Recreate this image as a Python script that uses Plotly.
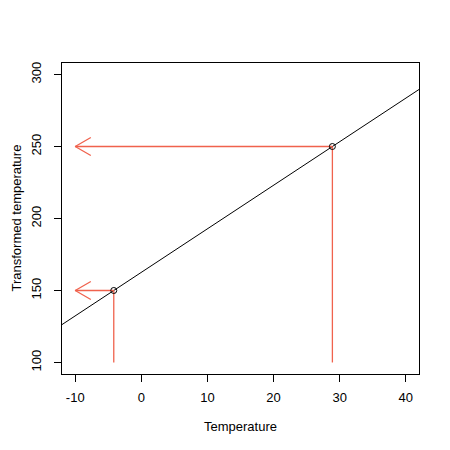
import numpy as np
import plotly.graph_objects as go

# Data
point_x = [-4.17, 28.9]          # temperatures of the two marked points
point_y = [150, 250]             # transformed temperatures
arrow_target_x = -10             # arrows point to this x
drop_to_y = 100                  # vertical lines go down to this y
x_ticks = [-10, 0, 10, 20, 30, 40]
y_ticks = [100, 150, 200, 250, 300]
x_range = [-12, 42]
y_range = [92, 308]

RED = "#F0624D"
W, H = 450, 450
ML, MT = 54, 55
PW, PH = 357, 311
MR, MB = W - ML - PW, H - MT - PH

# line through the two points (abline-like, spanning the axis range)
slope = (point_y[1] - point_y[0]) / (point_x[1] - point_x[0])
intercept = point_y[0] - slope * point_x[0]
lx = np.array(x_range)
ly = intercept + slope * lx

# pixel -> data conversion for arrowheads
px_x = (x_range[1] - x_range[0]) / PW
px_y = (y_range[1] - y_range[0]) / PH
head_len = 18
ang = np.deg2rad(30)
hdx = head_len * np.cos(ang) * px_x
hdy = head_len * np.sin(ang) * px_y

fig = go.Figure()
fig.add_trace(go.Scatter(x=lx, y=ly, mode="lines",
                         line=dict(color="black", width=1), hoverinfo="skip"))

ax, ay = [], []
vx, vy = [], []
for px, py in zip(point_x, point_y):
    ax += [px, arrow_target_x, None,
           arrow_target_x + hdx, arrow_target_x, arrow_target_x + hdx, None]
    ay += [py, py, None, py + hdy, py, py - hdy, None]
    vx += [px, px, None]
    vy += [py, drop_to_y, None]
fig.add_trace(go.Scatter(x=ax, y=ay, mode="lines",
                         line=dict(color=RED, width=1.3), hoverinfo="skip"))
fig.add_trace(go.Scatter(x=vx, y=vy, mode="lines",
                         line=dict(color=RED, width=1.3), hoverinfo="skip"))
fig.add_trace(go.Scatter(x=point_x, y=point_y, mode="markers",
                         marker=dict(symbol="circle-open", size=6,
                                     color="black", line=dict(width=1)),
                         hoverinfo="skip"))

FONT = dict(family="Liberation Sans", size=13, color="black")
axis_common = dict(showgrid=False, zeroline=False, showline=True, mirror=True,
                   linecolor="black", linewidth=1, ticks="outside", ticklen=7,
                   tickcolor="black", tickwidth=1, tickfont=FONT, automargin=False)
fig.update_xaxes(range=x_range, tickvals=x_ticks,
                 ticktext=[str(v) for v in x_ticks], ticklabelstandoff=4,
                 **axis_common,
                 title=dict(text="Temperature", standoff=18, font=FONT))
fig.update_yaxes(range=y_range, tickvals=y_ticks,
                 ticktext=[str(v) for v in y_ticks], tickangle=-90,
                 ticklabelstandoff=8, **axis_common)
fig.add_annotation(text="Transformed temperature", xref="paper", yref="paper",
                   x=0, y=0.5, xanchor="center", yanchor="middle",
                   xshift=-46, textangle=-90, showarrow=False, font=FONT)
fig.update_layout(width=W, height=H, showlegend=False,
                  margin=dict(l=ML, r=MR, t=MT, b=MB),
                  plot_bgcolor="white", paper_bgcolor="white")
fig.write_html("out.html")
